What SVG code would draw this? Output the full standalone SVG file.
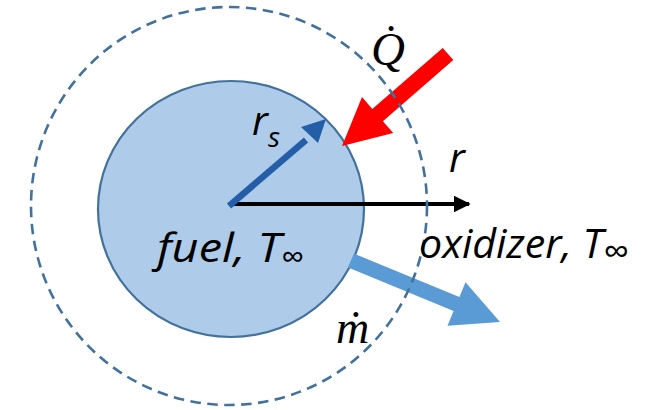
<svg xmlns="http://www.w3.org/2000/svg" width="651" height="410" viewBox="0 0 651 410">
<style>
.lbl{font-family:"Open Sans","Liberation Sans",sans-serif;font-style:italic;fill:#000}
.math{font-family:"Liberation Serif","DejaVu Serif",serif;font-style:italic;fill:#000}
</style>
<defs>
<marker id="blk" viewBox="0 0 10 10" refX="9" refY="5" markerWidth="4.5" markerHeight="4.5" orient="auto" markerUnits="strokeWidth">
<path d="M0,0 L10,5 L0,10 z" fill="#000"/>
</marker>
</defs>
<rect width="651" height="410" fill="#fff"/>
<g id="droplet">
<ellipse cx="231" cy="209" rx="133" ry="128" fill="#AECCE9" stroke="#41719C" stroke-width="2.2"/>
</g>
<g id="connectors">
<line x1="231" y1="204" x2="469" y2="204" stroke="#000" stroke-width="3.8" marker-end="url(#blk)"/>
<path d="M229,206 L306,140" stroke="#245EA6" stroke-width="6.5" fill="none"/>
<polygon points="326,119 318,143 301,127" fill="#245EA6"/>
<polygon id="heat" points="342,146 362,97 372.3,109 442.7,47.9 453.3,60.1 382.9,121.2 393.2,133.1" fill="#FF0000"/>
<polygon id="massflow" points="500,322 465.5,282.3 459.4,297.1 353.9,253.6 348.1,267.4 453.6,311 447.5,325.8" fill="#5B9BD5"/>
</g>
<g id="boundary">
<ellipse cx="229" cy="206" rx="198" ry="199" fill="none" stroke="#41719C" stroke-width="2.6" stroke-dasharray="10.5 6.5"/>
</g>
<g id="labels">
<text class="lbl" x="252" y="135" font-size="40">r</text>
<text class="lbl" x="268" y="147" font-size="28">s</text>
<text class="lbl" x="449" y="172" font-size="40">r</text>
<text class="lbl" x="157" y="262" font-size="40" textLength="124" lengthAdjust="spacingAndGlyphs">fuel, T</text>
<text class="lbl" x="281" y="268" font-size="32">∞</text>
<text class="lbl" x="419" y="258" font-size="40" textLength="184" lengthAdjust="spacingAndGlyphs">oxidizer, T</text>
<text class="lbl" x="603" y="264" font-size="36">∞</text>
<text class="math" x="371" y="65" font-size="47">Q̇</text>
<text class="math" x="336" y="343" font-size="46">ṁ</text>
</g>
</svg>
